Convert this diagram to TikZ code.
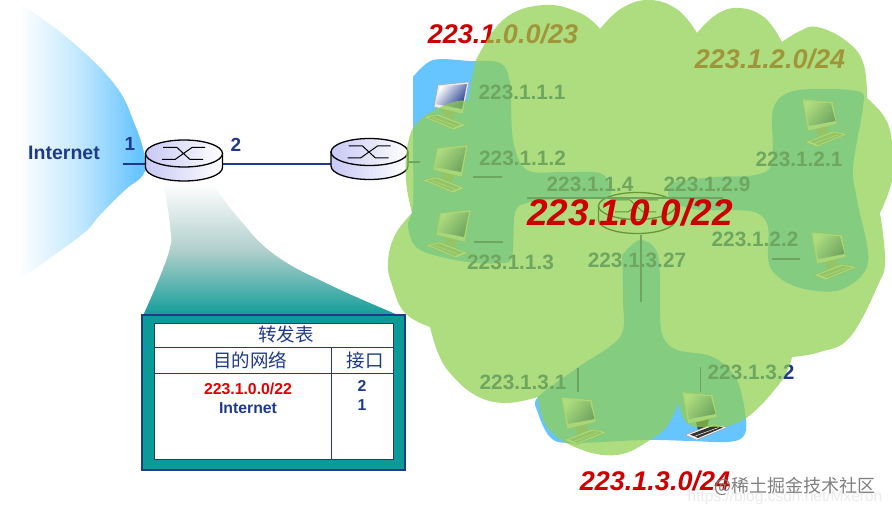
\documentclass[tikz,border=0pt]{standalone}
\usepackage{fontspec}
\setmainfont{Liberation Sans}
\newfontfamily\cjkf{Noto Sans CJK SC}
\definecolor{navy}{HTML}{1F3A8C}
\definecolor{netred}{HTML}{CC0000}
\definecolor{lanblue}{HTML}{66C4FF}
\definecolor{lanmid}{HTML}{C4E9FF}
\definecolor{teal2}{HTML}{0B9B97}
\definecolor{tealmid}{HTML}{B0CFCC}
\definecolor{cloudg}{RGB}{143,208,79}
\definecolor{rtrtop}{HTML}{C8C8F5}
\pgfdeclarehorizontalshading{inetfade}{100bp}{color(0bp)=(white); color(25bp)=(white); color(48bp)=(lanmid); color(72bp)=(lanblue); color(100bp)=(lanblue)}
\tikzset{
  lbl/.style={font=\fontsize{20.8}{22}\selectfont\bfseries,text=navy,inner sep=0pt},
  netl/.style={font=\fontsize{27}{29}\selectfont\bfseries\itshape,text=netred,inner sep=0pt},
  port/.style={font=\fontsize{19}{21}\selectfont\bfseries,text=navy,inner sep=0pt},
  tbl/.style={font=\fontsize{15.8}{17}\selectfont\bfseries,inner sep=0pt},
  cjkl/.style={font=\cjkf\fontsize{18.5}{20}\selectfont,text=navy,inner sep=0pt},
  wire/.style={navy,line width=1.3pt},
  tline/.style={navy,line width=.9pt},
  routerbox/.style={minimum width=77pt,minimum height=34pt,inner sep=0pt,outer sep=0pt},
  pics/rtr/.style={code={
    \draw[black,line width=1.3pt,left color=rtrtop,right color=white]
      (-38.5,0) -- (-38.5,14) arc[start angle=180,end angle=0,x radius=38.5,y radius=13.5] -- (38.5,0) -- cycle;
    \draw[black,line width=1.3pt,left color=rtrtop,right color=white]
      (0,0) ellipse[x radius=38.5,y radius=13.5];
    \draw[black,line width=1pt] (-22,6)--(-9,6)--(8,-6)--(21,-6) (-21,-6)--(-7,-6)--(6,6)--(19,6);
  }},
  pics/rtrbare/.style={code={
    \draw[black,line width=1.3pt]
      (-38.5,0) -- (-38.5,14) arc[start angle=180,end angle=0,x radius=38.5,y radius=13.5] -- (38.5,0);
    \draw[black,line width=1.3pt] (0,0) ellipse[x radius=38.5,y radius=13.5];
    \draw[black,line width=1pt] (-22,6)--(-9,6)--(8,-6)--(21,-6) (-21,-6)--(-7,-6)--(6,6)--(19,6);
  }},
  pics/host/.style={code={
    % stand
    \fill[#1] (4,24) -- (17,27) -- (15,35) -- (6,33) -- cycle;
    % keyboard
    \draw[black!40,line width=.5pt,fill=black!4] (-15,32) -- (16,45) -- (28,40) -- (0,29) -- cycle;
    \fill[#1] (-10,32.5) -- (15,43) -- (23,39.5) -- (-1,30.5) -- cycle;
    \draw[black!4,line width=.5pt] (-5.5,32.5) -- (19,41.5);
    % monitor
    \draw[black!35,line width=.5pt,fill=black!8] (0,0) -- (31,-3) -- (25,29) -- (-4,22) -- cycle;
    \shade[shading=axis,left color=white,right color=navy,shading angle=50]
      (2,1.5) -- (29,-1) -- (24,24) -- (-2.5,19) -- cycle;
  }},
}
\begin{document}
\begin{tikzpicture}[x=1pt,y=-1pt]
\useasboundingbox (0,0) rectangle (892,513);
\fill[white] (0,0) rectangle (892,513);
% Internet
\shade[shading=inetfade]
  plot[smooth,tension=.7] coordinates {(22,5) (70,40) (115,85) (135,125) (145,158) (143,175) (125,190) (100,215) (85,232) (50,258) (18,280)} -- cycle;
% teal fan
\shade[top color=white,bottom color=teal2,middle color=tealmid]
  plot[smooth,tension=.7] coordinates {(163,183) (170,225) (168,255) (142,318)}
  -- (405,318)
  -- plot[smooth,tension=.7] coordinates {(405,318) (330,285) (275,255) (240,220) (212,183)} -- cycle;
% subnet regions (blue, seen green through the cloud)
\fill[lanblue] plot[smooth,tension=.55] coordinates {(413,77) (433,60) (470,61) (500,63) (510,83) (513,140) (527,170) (565,172) (600,173) (610,186) (606,198) (560,199) (527,203) (515,213) (512,257) (500,263) (467,262) (420,250) (408,227) (413,205) (413,140) (413,77)} -- cycle;
\fill[lanblue] plot[smooth,tension=.55] coordinates {(673,182) (715,177) (755,175) (772,163) (773,110) (790,92) (825,89) (860,92) (863,107) (853,167) (857,200) (868,263) (840,290) (797,287) (770,267) (768,227) (757,213) (733,210) (700,210) (673,203) (668,192) (673,182)} -- cycle;
\fill[lanblue] plot[smooth,tension=.55] coordinates {(622,255) (640,240) (658,255) (660,313) (663,337) (677,350) (713,357) (737,380) (746,420) (743,437) (727,442) (690,441) (645,440) (570,443) (550,437) (538,413) (538,397) (577,368) (620,337) (623,300) (622,255)} -- cycle;
% labels, hosts, inner routers under the cloud
\node[netl] at (503,34) {223.1.0.0/23};
\node[netl] at (770,59) {223.1.2.0/24};
\node[lbl] at (522,92) {223.1.1.1};
\node[lbl] at (522.5,158) {223.1.1.2};
\node[lbl] at (510.5,262) {223.1.1.3};
\node[lbl] at (590,184) {223.1.1.4};
\node[lbl] at (707,184) {223.1.2.9};
\node[lbl] at (799,159) {223.1.2.1};
\node[lbl] at (755,239) {223.1.2.2};
\node[lbl] at (637,260) {223.1.3.27};
\node[lbl] at (523,382) {223.1.3.1};
\node[lbl] at (751,372) {223.1.3.2};
\pic at (438,85) {host=black!35};
\pic at (437,148) {host=black!35};
\pic at (440,213) {host=black!35};
\pic[xscale=-1] at (833,102) {host=black!35};
\pic[xscale=-1] at (842,235) {host=black!35};
\pic[xscale=-1] at (592,400) {host=black!35};
\pic[xscale=-1] at (713,395) {host=black!80};
% routers
\node[routerbox] (r1) at (184,164) {};
\node[routerbox] (r2) at (369.5,164) {};
\node[routerbox] (r3) at (637,212) {};
\coordinate (p1) at (123,164);
\draw[wire] (p1) -- (r1.west);
\draw[wire] (r1.east) -- (r2.west);
\pic at (184,153.5) {rtr};
\pic at (369.5,152) {rtr};
\pic at (637,206) {rtrbare};
% stubs
\coordinate (a0) at (408,162); \coordinate (a1) at (420,162);
\coordinate (b0) at (473,177); \coordinate (b1) at (502,177);
\coordinate (c0) at (474,242); \coordinate (c1) at (503,242);
\coordinate (d0) at (527,198); \coordinate (d1) at (723,198);
\coordinate (e0) at (641,235); \coordinate (e1) at (641,302);
\coordinate (f0) at (578,368); \coordinate (f1) at (578,392);
\coordinate (g0) at (700.5,367); \coordinate (g1) at (700.5,392);
\coordinate (h0) at (772,259); \coordinate (h1) at (800,259);
\draw[wire] (a0)--(a1) (b0)--(b1) (c0)--(c1) (d0)--(d1) (e0)--(e1) (f0)--(f1) (g0)--(g1) (h0)--(h1);
% cloud
\fill[cloudg,fill opacity=.72]
  plot[smooth,tension=.7] coordinates {(475,62) (503,20) (543,5) (580,13) (600,29)}
  -- plot[smooth,tension=.7] coordinates {(600,29) (622,8) (650,0) (678,10) (697,33)}
  -- plot[smooth,tension=.7] coordinates {(697,33) (717,14) (740,8) (765,18) (782,42)}
  -- plot[smooth,tension=.7] coordinates {(782,42) (800,31) (817,27) (845,40) (863,62) (867,98)}
  -- plot[smooth,tension=.7] coordinates {(867,98) (885,118) (892,143) (892,180) (880,213)}
  -- plot[smooth,tension=.7] coordinates {(880,213) (885,260) (878,285) (850,337) (820,352) (792,357)}
  -- plot[smooth,tension=.7] coordinates {(792,357) (780,383) (743,420) (707,427) (687,423) (678,403)}
  -- plot[smooth,tension=.7] coordinates {(678,403) (668,425) (650,440) (617,455) (577,448) (547,427) (538,397)}
  -- plot[smooth,tension=.7] coordinates {(538,397) (505,403) (475,395) (450,373) (438,353) (430,327)}
  -- plot[smooth,tension=.7] coordinates {(430,327) (405,313) (392,285) (388,262) (395,235) (412,213)}
  -- plot[smooth,tension=.7] coordinates {(412,213) (406,180) (408,143) (420,120) (450,103) (468,101)}
  -- cycle;
% forwarding table
\node[draw=navy,line width=2pt,fill=teal2,minimum width=263pt,minimum height=155pt,inner sep=0pt] (outer) at (273.5,392.5) {};
\node[draw=navy,line width=.9pt,fill=white,minimum width=239pt,minimum height=136pt,inner sep=0pt] (inner) at (273.5,391) {};
\coordinate (h1a) at (154,347); \coordinate (h1b) at (393,347);
\coordinate (h2a) at (154,373); \coordinate (h2b) at (393,373);
\coordinate (v1) at (331,347); \coordinate (v2) at (331,459);
\draw[tline] (h1a)--(h1b) (h2a)--(h2b) (v1)--(v2);
\node[cjkl] at (286,334.5) {转发表};
\node[cjkl] at (250,360) {目的网络};
\node[cjkl] at (365,360) {接口};
\node[tbl,text=red!90!black] at (248,389) {223.1.0.0/22};
\node[tbl,text=navy] at (248,408) {Internet};
\node[tbl,text=navy] at (362,386) {2};
\node[tbl,text=navy] at (362,405) {1};
% top labels
\node[font=\fontsize{19.5}{21}\selectfont\bfseries,text=navy,inner sep=0pt] at (64,153) {Internet};
\node[port] at (130,144) {1};
\node[port] at (236,145) {2};
\node[font=\fontsize{37}{39}\selectfont\bfseries\itshape,text=netred,inner sep=0pt] at (630,212) {223.1.0.0/22};
\node[netl] at (655,481) {223.1.3.0/24};
% watermark
\node[font=\fontsize{15.5}{17}\selectfont,text=black!8,inner sep=0pt] at (785,497) {https://blog.csdn.net/Mxeron};
\node[font=\cjkf\fontsize{18}{20}\selectfont,text=black!50,inner sep=0pt] at (795,486) {@稀土掘金技术社区};
\end{tikzpicture}
\end{document}
